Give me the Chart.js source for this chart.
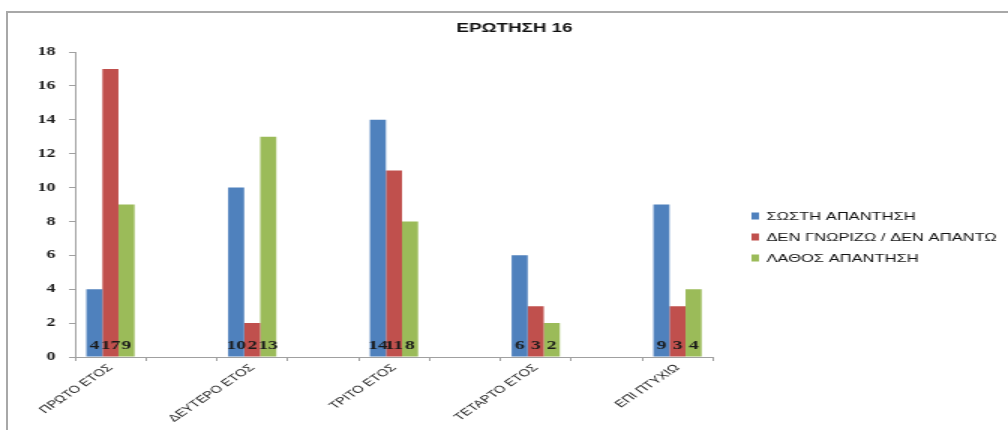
<!DOCTYPE html>
<html>
<head>
<meta charset="utf-8">
<script src="https://cdn.jsdelivr.net/npm/chart.js@4/dist/chart.umd.min.js"></script>
<style>
  html, body { margin: 0; padding: 0; background: #fff; overflow: hidden; }
  #wrap { position: relative; width: 1008px; height: 430px; }
  #frame { position: absolute; left: 6px; top: 11px; right: -4px; bottom: -4px;
           border-top: 2px solid #a8a8a8; border-left: 2px solid #a8a8a8; }
  #c { position: absolute; left: 0; top: 0; }
</style>
</head>
<body>
<div id="wrap">
  <div id="frame"></div>
  <!-- drawn on a 672px-wide surface and shown 1.5x wider -->
  <canvas id="c" width="672" height="430" style="width:1008px;height:430px"></canvas>
</div>
<script>
const chartTitle = 'ΕΡΩΤΗΣΗ 16';
const categories = ['ΠΡΩΤΟ ΕΤΟΣ', 'ΔΕΥΤΕΡΟ ΕΤΟΣ', 'ΤΡΙΤΟ ΕΤΟΣ', 'ΤΕΤΑΡΤΟ ΕΤΟΣ', 'ΕΠΙ ΠΤΥΧΙΩ'];
const seriesNames = ['ΣΩΣΤΗ ΑΠΑΝΤΗΣΗ', 'ΔΕΝ ΓΝΩΡΙΖΩ / ΔΕΝ ΑΠΑΝΤΩ', 'ΛΑΘΟΣ ΑΠΑΝΤΗΣΗ'];
const correctAnswers = [4, 10, 14, 6, 9];
const dontKnowAnswers = [17, 2, 11, 3, 3];
const wrongAnswers = [9, 13, 8, 2, 4];
const yTickValues = [0, 2, 4, 6, 8, 10, 12, 14, 16, 18];
const seriesColors = ['#4F81BD', '#C0504D', '#9BBB59'];

// The category axis has an empty slot between consecutive years.
function withGaps(arr, fill) {
  const out = [];
  arr.forEach((v, i) => { if (i > 0) out.push(fill); out.push(v); });
  return out;
}

const seriesValues = [correctAnswers, dontKnowAnswers, wrongAnswers];

const barValuesPlugin = {
  id: 'barValues',
  afterDatasetsDraw(chart) {
    const { ctx } = chart;
    const base = chart.scales.y.getPixelForValue(0);
    ctx.save();
    ctx.font = 'bold 13px "Liberation Serif"';
    ctx.fillStyle = '#1a1a1a';
    ctx.textAlign = 'center';
    ctx.textBaseline = 'middle';
    chart.data.datasets.forEach((ds, i) => {
      chart.getDatasetMeta(i).data.forEach((bar, j) => {
        const v = ds.data[j];
        if (v === null || v === undefined) return;
        ctx.fillText(String(v), bar.x, base - 11);
      });
    });
    ctx.restore();
  }
};

const titleLegendPlugin = {
  id: 'titleLegend',
  afterDraw(chart) {
    const { ctx } = chart;
    ctx.save();
    ctx.fillStyle = '#111';
    ctx.font = 'bold 12.5px "Liberation Sans"';
    ctx.textAlign = 'center';
    ctx.textBaseline = 'middle';
    ctx.fillText(chartTitle, 343, 29);

    ctx.font = '11px "Liberation Sans"';
    ctx.textAlign = 'left';
    chart.data.datasets.forEach((ds, i) => {
      const y = 216 + i * 21;
      ctx.fillStyle = ds.backgroundColor;
      ctx.fillRect(501, y - 3.5, 5, 7);
      ctx.fillStyle = '#111';
      ctx.fillText(ds.label, 511, y + 0.5);
    });
    ctx.restore();
  }
};

new Chart(document.getElementById('c'), {
  type: 'bar',
  data: {
    labels: withGaps(categories, ''),
    datasets: seriesNames.map((name, i) => ({
      label: name,
      data: withGaps(seriesValues[i], null),
      backgroundColor: seriesColors[i],
      borderWidth: 0,
      categoryPercentage: 0.68,
      barPercentage: 1.0
    }))
  },
  options: {
    responsive: false,
    devicePixelRatio: 1,
    animation: false,
    layout: { padding: { top: 52, right: 196.7, bottom: 0, left: 0 } },
    plugins: {
      legend: { display: false },
      title: { display: false },
      tooltip: { enabled: false }
    },
    scales: {
      x: {
        grid: { offset: true, drawOnChartArea: false, drawTicks: true, tickLength: 4, color: '#a0a0a0' },
        border: { color: '#a0a0a0', width: 1 },
        ticks: {
          autoSkip: false, minRotation: 45, maxRotation: 45, padding: 1,
          color: '#1a1a1a',
          font: { family: 'Liberation Sans', size: 10 }
        },
        afterFit(scale) { scale.height = 73; }
      },
      y: {
        min: 0, max: 18,
        grid: { drawOnChartArea: false, drawTicks: true, tickLength: 4, color: '#a0a0a0' },
        border: { color: '#a0a0a0', width: 1 },
        ticks: {
          padding: 9, color: '#1a1a1a',
          font: { family: 'Liberation Serif', size: 12, weight: 'bold' }
        },
        afterBuildTicks(scale) { scale.ticks = yTickValues.map(v => ({ value: v })); },
        afterFit(scale) { scale.width = 50; }
      }
    }
  },
  plugins: [barValuesPlugin, titleLegendPlugin]
});
</script>
</body>
</html>
